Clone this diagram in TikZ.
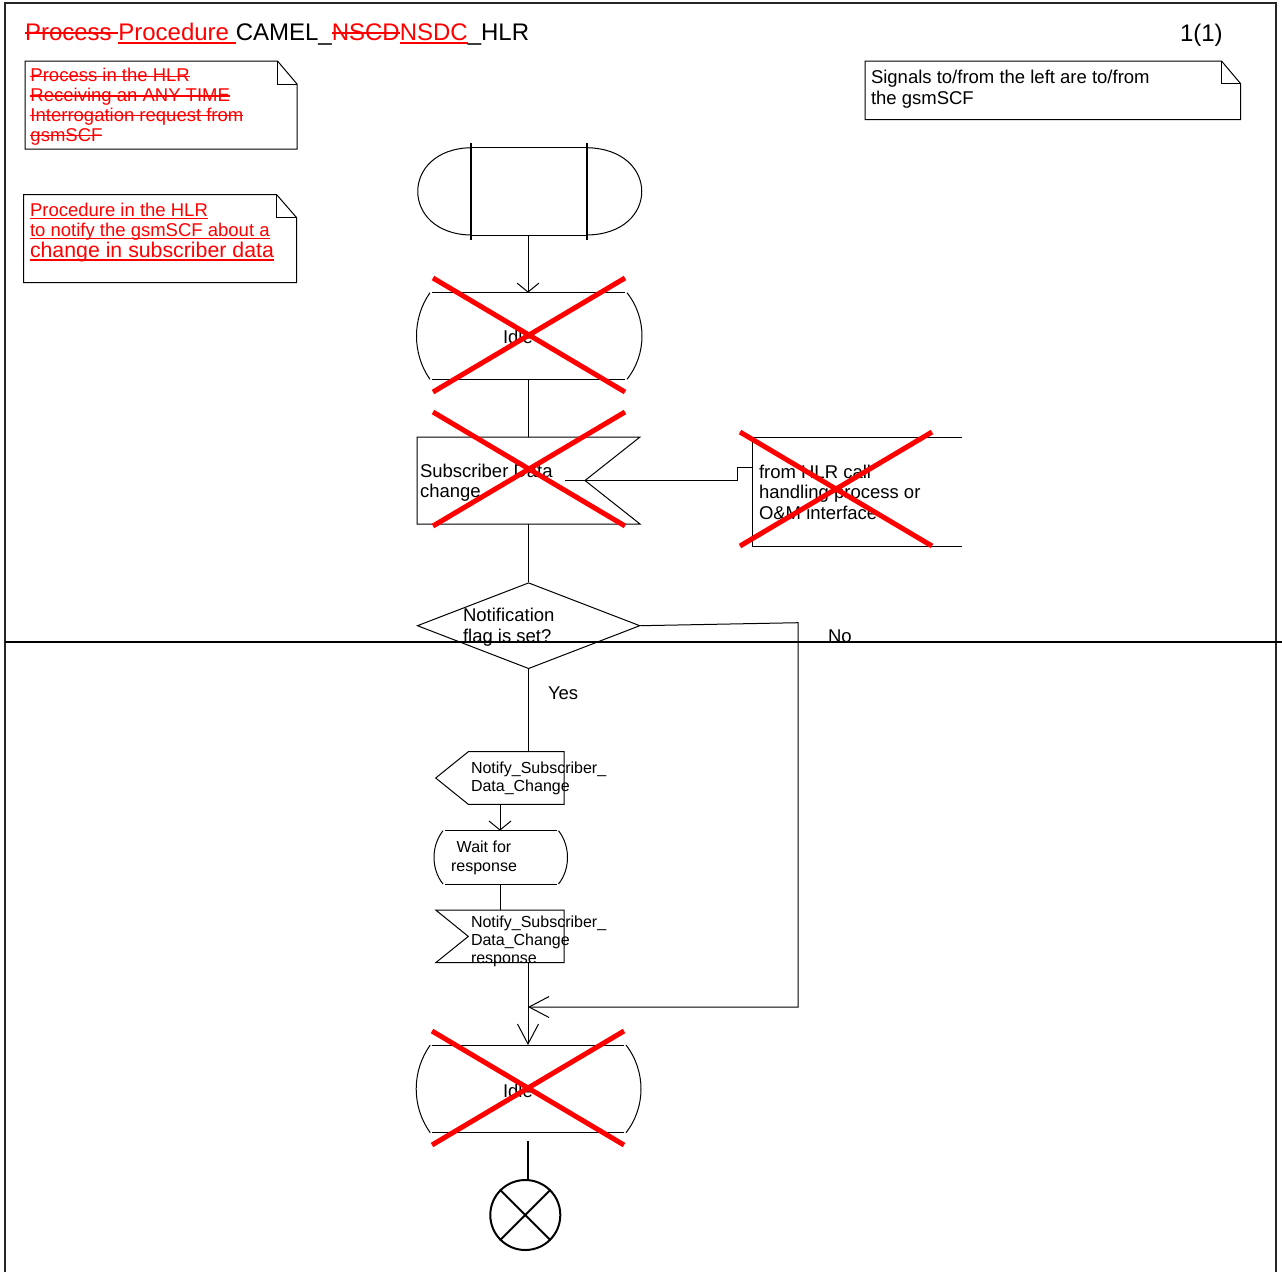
\documentclass[tikz,border=0pt]{standalone}
\usepackage{fontspec}
\setmainfont{Liberation Sans}
\usetikzlibrary{arrows.meta,shapes.geometric}
\definecolor{chg}{RGB}{255,0,0}
% struck-out and underlined change marks
\newcommand{\delt}[1]{{\color{chg}\setbox0\hbox{#1}\rlap{\rule[0.27em]{\wd0}{0.075em}}\box0}}
\newcommand{\inst}[1]{{\color{chg}\setbox0\hbox{#1}\rlap{\rule[-0.17em]{\wd0}{0.075em}}\box0}}
\newcommand{\fs}[2]{\fontsize{#1}{#2}\selectfont}

\begin{document}
\begin{tikzpicture}[x=1pt,y=-1pt,
  line join=miter,
  sym/.style={draw=black, line width=1pt},
  port/.style={inner sep=0pt, outer sep=0pt, draw=none, rectangle},
  % multi-line texts are placed by the baseline of their last line
  txt/.style={inner sep=0pt, outer sep=0pt, anchor=base west, align=left, font=\fs{18.5}{20}},
  stxt/.style={txt, font=\fs{16}{18}},
  flow/.style={draw=black, line width=1pt},
  arr/.style={flow, -{Straight Barb[length=9pt,width=22pt,line width=1pt]}},
  longarr/.style={flow, -{Straight Barb[length=20pt,width=21pt,line width=1pt]}},
  xout/.style={draw=chg, line width=5pt},
  note/.style={draw=black, line width=1pt}
]
\useasboundingbox (0,0) rectangle (1282,1272);

% page frame and page break
\draw[line width=1.5pt, black!85] (5,1272) -- (5,3) -- (1276,3) -- (1276,1272);
\draw[line width=2pt] (5,641.5) -- (1282,641.5);

% heading
\node[txt, font=\fs{24}{28}] (title) at (25,40)
  {\delt{Process }\inst{Procedure }CAMEL\_\delt{NSCD}\inst{NSDC}\_HLR};
\node[txt, font=\fs{24}{28}] (page) at (1180,41) {1(1)};

% text annotations with folded corners
\draw[note] (25,61) -- (277.5,61) -- (297,84) -- (297,149) -- (25,149) -- cycle;
\draw[note] (277.5,61) -- (277.5,84) -- (297,84);
\node[txt, font=\fs{18.5}{19.7}] (n1) at (30.5,141) {\delt{Process in the HLR}\\\delt{Receiving an ANY TIME}\\\delt{Interrogation request from}\\\delt{gsmSCF}};

\draw[note] (23.5,194.5) -- (276.5,194.5) -- (296.5,217.5) -- (296.5,282.5) -- (23.5,282.5) -- cycle;
\draw[note] (276.5,194.5) -- (276.5,217.5) -- (296.5,217.5);
\node[txt] (n2) at (30,257) {\inst{Procedure in the HLR}\\\inst{to notify the gsmSCF about a}\\[1pt]{\fs{21.3}{22}\inst{change in subscriber data}}};

\draw[note] (865,61) -- (1221.5,61) -- (1240.5,83.5) -- (1240.5,119.5) -- (865,119.5) -- cycle;
\draw[note] (1221.5,61) -- (1221.5,83.5) -- (1240.5,83.5);
\node[txt, font=\fs{18.5}{21}] (n3) at (871,104) {Signals to/from the left are to/from\\the gsmSCF};

% ---- procedure start
\node[port, minimum width=116pt, minimum height=87.3pt] (start) at (528,191.3) {};
\draw[sym] (471,147.7) -- (587,147.7) (471,235) -- (587,235);
\draw[sym] (471,147.7) .. controls (400,149) and (400,234) .. (471,235);
\draw[sym] (587,147.7) .. controls (660,149) and (660,234) .. (587,235);
\draw[sym, line width=1.6pt] (471,143) -- (471,240) (587,143) -- (587,240);

% ---- Idle state (removed)
\node[port, minimum width=193pt, minimum height=86.6pt] (idleA) at (528,336) {};
\draw[sym] (432,292.7) -- (625,292.7) (432,379.3) -- (625,379.3);
\draw[sym] (430,292.7) .. controls (412,318) and (412,354) .. (430,379.3);
\draw[sym] (627,292.7) .. controls (647,318) and (647,354) .. (627,379.3);
\node[txt] (idleAt) at (503,343.5) {Idle};
\draw[xout] (433,278) -- (625,392) (625,278) -- (433,392);
\draw[arr] (start.south) -- (idleA.north);

% ---- input: Subscriber Data change (removed)
\node[port, minimum width=223pt, minimum height=87pt] (sdc) at (528,480.5) {};
\draw[sym] (417,437) -- (640,437) -- (585,480.5) -- (640,524) -- (417,524) -- cycle;
\node[txt] (sdct) at (420,497.5) {Subscriber Data\\change};

% signal source box (removed)
\node[port, minimum width=210pt, minimum height=109pt] (hlr) at (857,491.5) {};
\draw[sym] (962,437) -- (752,437) -- (752,546) -- (962,546);
\node[txt, font=\fs{18.5}{20.3}] (hlrt) at (759,519) {from HLR call\\handling process or\\O\&M interface};
\coordinate (sigin) at (565,480.5);
\draw[flow] (sigin) -- (737,480.5) |- (hlr.west |- 0,467);
\draw[xout] (433,412) -- (625,526) (625,412) -- (433,526);
\draw[xout] (740,432) -- (932,546) (932,432) -- (740,546);

\draw[flow] (idleA.south) -- (sdc.north);

% ---- decision
\node[diamond, draw=black, line width=1pt, inner sep=0pt, minimum width=222.7pt, minimum height=86pt] (dec) at (528.6,625.7) {};
\node[txt, font=\fs{18.5}{21}] (dect) at (463,642.5) {Notification\\flag is set?};
\draw[flow] (sdc.south) -- (sdc.south |- dec.north);

% ---- output: Notify_Subscriber_Data_Change
\node[port, minimum width=128.3pt, minimum height=52.6pt] (out) at (500,778) {};
\draw[sym] (468.3,751.7) -- (564,751.7) -- (564,804.3) -- (468.3,804.3) -- (435.7,778) -- cycle;
\node[stxt] (outt) at (471,791.5) {Notify\_Subscriber\_\\Data\_Change};
\draw[flow] (dec.south) -- (dec.south |- out.north);
\node[txt] (yes) at (548,699.5) {Yes};

% ---- state: Wait for response
\node[port, minimum width=130pt, minimum height=53.3pt] (wait) at (500,857.3) {};
\draw[sym] (445,830.7) -- (556.7,830.7) (445,884) -- (556.7,884);
\draw[sym] (443,830.7) .. controls (431,846) and (431,869) .. (443,884);
\draw[sym] (558.5,830.7) .. controls (570.5,846) and (570.5,869) .. (558.5,884);
\node[stxt, font=\fs{16}{19}, align=center, anchor=base] (waitt) at (484,871.5) {Wait for\\response};
\draw[arr] (out.south) -- (wait.north);

% ---- input: Notify_Subscriber_Data_Change response
\node[port, minimum width=128.3pt, minimum height=52.7pt] (resp) at (500,936.4) {};
\draw[sym] (435.7,910) -- (564,910) -- (564,962.7) -- (435.7,962.7) -- (468.3,936.4) -- cycle;
\node[stxt] (respt) at (471,963.5) {Notify\_Subscriber\_\\Data\_Change\\response};
\draw[flow] (wait.south) -- (resp.north);

% ---- Idle state (removed)
\node[port, minimum width=192pt, minimum height=87.7pt] (idleB) at (528,1088.9) {};
\draw[sym] (432.3,1045) -- (624,1045) (432.3,1132.7) -- (624,1132.7);
\draw[sym] (430.3,1045) .. controls (411.5,1071) and (411.5,1107) .. (430.3,1132.7);
\draw[sym] (626,1045) .. controls (646,1071) and (646,1107) .. (626,1132.7);
\node[txt] (idleBt) at (503,1097) {Idle};
\draw[longarr] (resp.south -| idleB.north) -- (idleB.north);
\coordinate (merge) at (528,1007);
\draw[longarr] (dec.east) -- (798,622.7) -- (798,1007) -- (merge);
\node[txt] (no) at (828,642.5) {No};
\draw[xout] (432,1031) -- (624,1145) (624,1031) -- (432,1145);

% ---- procedure end
\node[circle, draw=black, line width=2pt, minimum size=70pt, inner sep=0pt] (stop) at (525.3,1215) {};
\draw[line width=2pt] (stop.north west) -- (stop.south east) (stop.north east) -- (stop.south west);
\coordinate (stopin) at (528,1141);
\draw[flow, line width=2pt] (stopin) -- (stopin |- stop.north);
\end{tikzpicture}
\end{document}
